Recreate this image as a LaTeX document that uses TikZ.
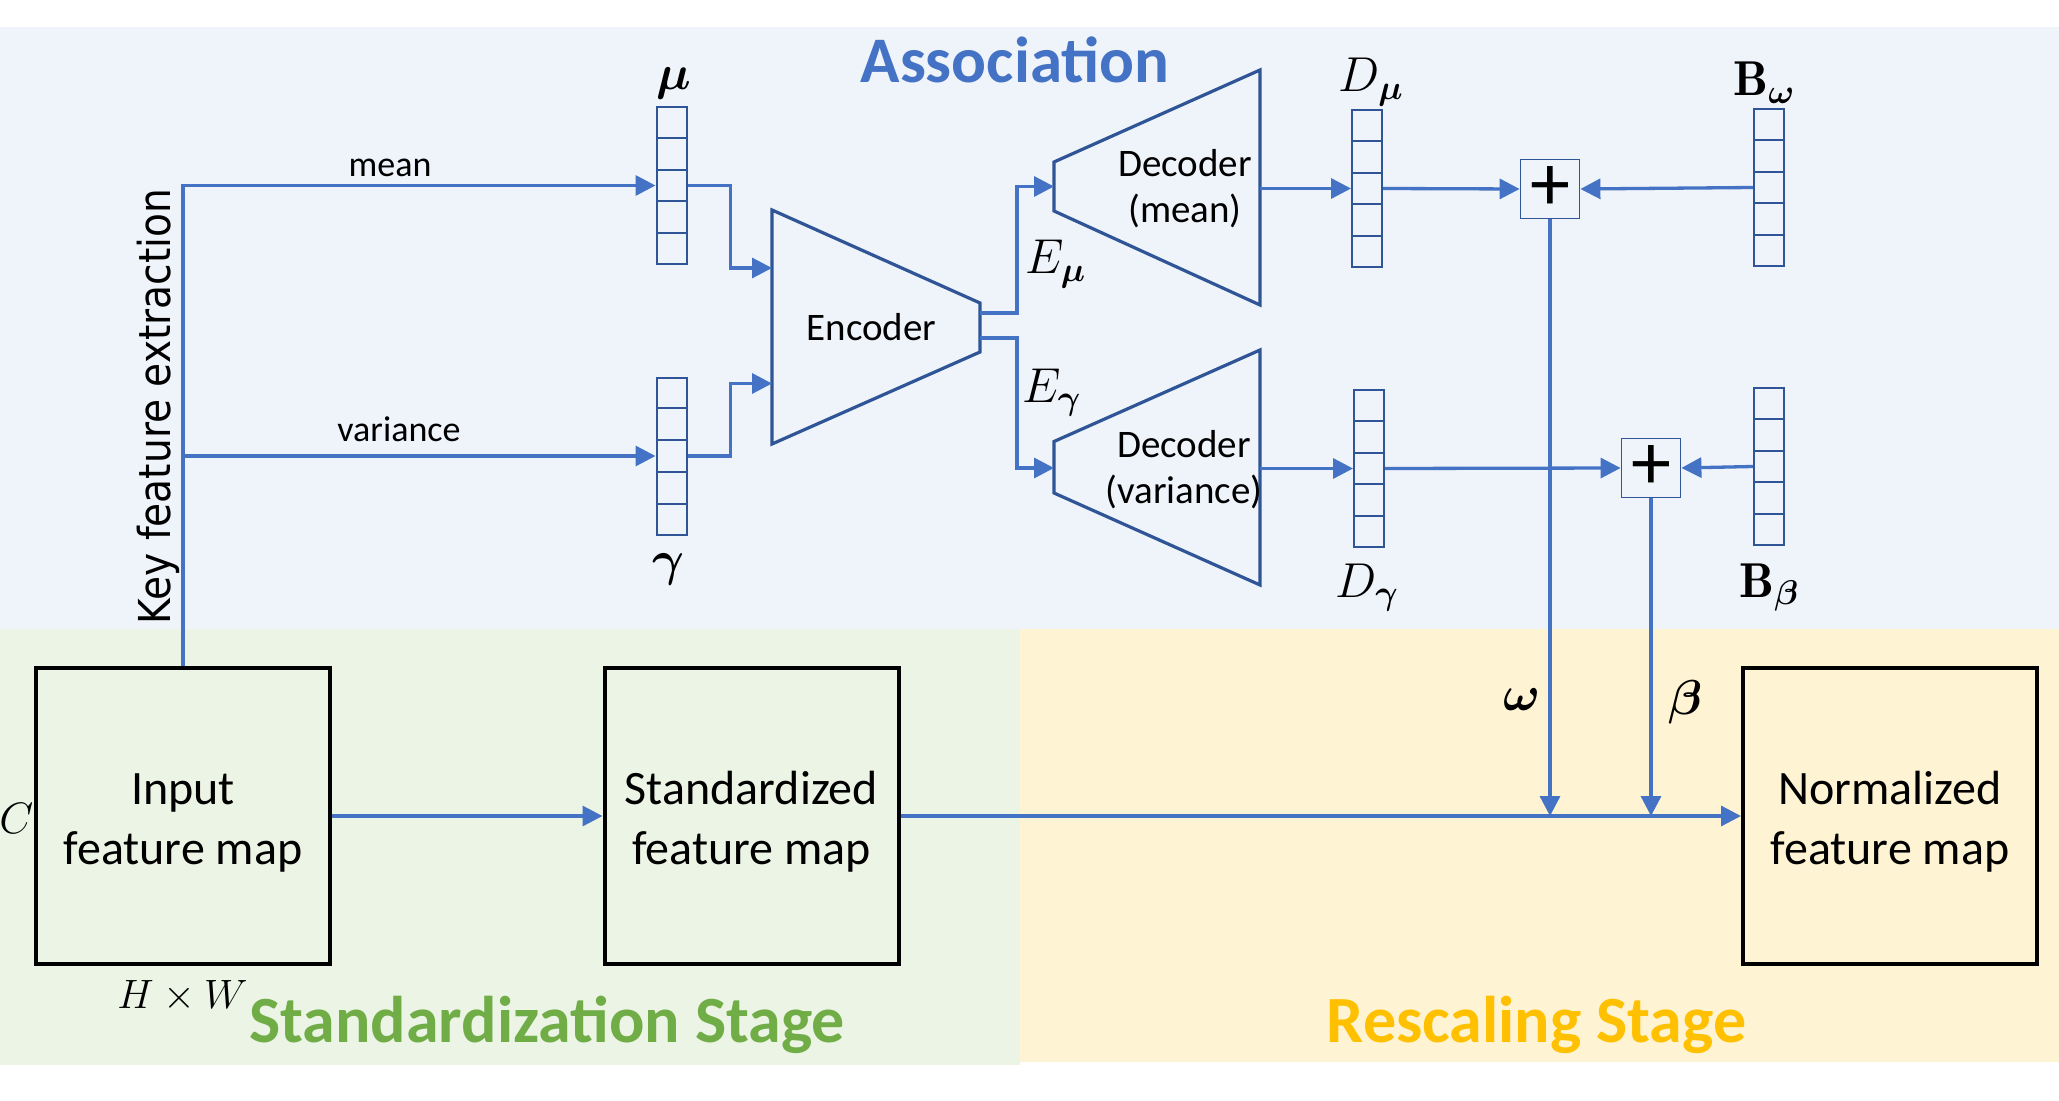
\RequirePackage{fix-cm}
\documentclass[tikz,border=0pt]{standalone}
\usepackage{amsmath}
\usepackage{fontspec}
\newfontfamily\carlito{Carlito}
\newfontfamily\dejavu{DejaVu Sans}
\usetikzlibrary{arrows.meta,calc}

\definecolor{cblue}{RGB}{68,114,196}
\definecolor{dblue}{RGB}{47,85,151}
\definecolor{assocbg}{RGB}{239,243,250}
\definecolor{stdbg}{RGB}{236,244,229}
\definecolor{resbg}{RGB}{254,243,211}
\definecolor{stdgreen}{RGB}{112,173,71}
\definecolor{resgold}{RGB}{255,192,0}

\begin{document}
\begin{tikzpicture}[x=0.5pt,y=-0.5pt,
  conn/.style={draw=cblue,line width=1.65pt},
  arr/.style={conn,-{Triangle[length=10pt,width=10pt]}},
  trap/.style={draw=dblue,line width=1.6pt,line join=miter},
  vec/.style={draw=dblue,line width=1pt,minimum width=15pt,minimum height=78.5pt,inner sep=0pt},
  cell/.style={draw=dblue,line width=1pt},
  fmap/.style={draw=black,line width=2pt,minimum width=147pt,minimum height=148pt,inner sep=0pt},
  boxtxt/.style={align=center,font=\carlito\fontsize{24pt}{30pt}\selectfont,inner sep=0pt},
  coder/.style={align=center,font=\carlito\fontsize{19.5pt}{23pt}\selectfont,inner sep=0pt},
  small/.style={font=\carlito\fontsize{18pt}{21pt}\selectfont,inner sep=0pt,anchor=base},
  stage/.style={font=\carlito\bfseries\fontsize{33pt}{38pt}\selectfont,inner sep=0pt,anchor=base},
  mlbl/.style={font=\fontsize{24.5pt}{28pt}\selectfont,inner sep=0pt,anchor=base west},
  sym/.style={font=\fontsize{24.5pt}{28pt}\selectfont,inner sep=0pt,anchor=base},
  plusbox/.style={draw=dblue,line width=0.9pt,minimum size=29.5pt,inner sep=0pt,fill=assocbg,
                  font=\carlito\fontsize{40pt}{40pt}\selectfont},
]

% canvas and the three stage panels
\fill[white] (0,0) rectangle (2059,1101);
\useasboundingbox (0,0) rectangle (2059,1101);
\fill[assocbg] (0,27) rectangle (2059,629);
\fill[stdbg] (0,629) rectangle (1019.5,1065);
\fill[resbg] (1019.5,629) rectangle (2059,1062);

% panel titles
\node[stage,text=cblue,font=\carlito\bfseries\fontsize{32.5pt}{38pt}\selectfont] (assoc) at (1015,83) {Association};
\node[stage,text=stdgreen] (stdstage) at (547,1042) {Standardization Stage};
\node[stage,text=resgold] (resstage) at (1536.5,1042) {Rescaling Stage};

% feature maps
\node[sym,anchor=base west,font=\fontsize{22pt}{26pt}\selectfont] (clbl) at (-1,833) {$C$};
\node[fmap,fill=stdbg] (input) at (183,816) {};
\node[boxtxt] (inputtxt) at (183,823) {Input\\feature map};
\node[fmap,fill=stdbg] (std) at (751.5,816) {};
\node[boxtxt] (stdtxt) at (751.5,822) {Standardized\\feature map};
\node[fmap,fill=resbg] (norm) at (1890,816) {};
\node[boxtxt] (normtxt) at (1890,822) {Normalized\\feature map};
\node[sym,font=\fontsize{20.5pt}{24pt}\selectfont] (hwlbl) at (182.5,1008) {$H\times W$};

% statistic vectors
\node[vec] (mu) at (671.5,185.5) {};
\node[vec] (gam) at (671.5,456) {};
\node[vec] (dmu) at (1367,188.5) {};
\node[vec] (dgam) at (1369,468.5) {};
\node[vec] (bw) at (1769,187.5) {};
\node[vec] (bb) at (1769,466.5) {};
\foreach \v in {mu,gam,dmu,dgam,bw,bb}
  \foreach \i in {1,...,4}
    \draw[cell] ($(\v.north west)!\i/5!(\v.south west)$) -- ($(\v.north east)!\i/5!(\v.south east)$);

\node[sym] (mulbl) at (674,90) {$\boldsymbol{\mu}$};
\node[sym] (gamlbl) at (669,575) {$\boldsymbol{\gamma}$};
\node[mlbl] (dmulbl) at (1338,92) {$D_{\boldsymbol{\mu}}$};
\node[mlbl] (dgamlbl) at (1335,597) {$D_{\boldsymbol{\gamma}}$};
\node[mlbl] (bwlbl) at (1733,96) {$\mathbf{B}_{\boldsymbol{\omega}}$};
\node[mlbl] (bblbl) at (1739,597) {$\mathbf{B}_{\boldsymbol{\beta}}$};

% encoder and decoders
\draw[trap] (772,210) -- (980,303) -- (980,352) -- (772,444) -- cycle;
\draw[trap] (1054,162) -- (1260,70) -- (1260,305) -- (1054,211) -- cycle;
\draw[trap] (1054,441.5) -- (1260,350) -- (1260,585) -- (1054,493) -- cycle;
\coordinate (encin1) at (772,268);
\coordinate (encin2) at (772,383.5);
\coordinate (encout1) at (980,313);
\coordinate (encout2) at (980,338);
\coordinate (decmin) at (1054,186.5);
\coordinate (decvin) at (1054,468);
\coordinate (decmout) at (1260,188.5);
\coordinate (decvout) at (1260,468.5);
\node[coder,anchor=base] (enctxt) at (871.5,341) {Encoder};
\node[coder] (decmtxt) at (1185,188.5) {Decoder\\(mean)};
\node[coder] (decvtxt) at (1184,470) {Decoder\\(variance)};
\node[mlbl] (emulbl) at (1025,274) {$E_{\boldsymbol{\mu}}$};
\node[mlbl] (egamlbl) at (1022,402) {$E_{\boldsymbol{\gamma}}$};

% adders
\node[plusbox] (plus1) at (1550,189) {+};
\node[plusbox] (plus2) at (1651,468) {+};

% key feature extraction
\node[rotate=90,anchor=base,inner sep=0pt,font=\dejavu\fontsize{22pt}{26pt}\selectfont] (keytxt) at (170,406.5)
  {\scalebox{0.889}[1]{Key feature extraction}};
\draw[arr] (input.north) |- (mu.west);
\draw[arr] (input.north |- gam.west) -- (gam.west);
\node[small] (meanlbl) at (390,177) {mean};
\node[small] (varlbl) at (399,441) {variance};

% association network connectors
\draw[arr] (mu.east) -- ++(43,0) |- (encin1);
\draw[arr] (gam.east) -- ++(43,0) |- (encin2);
\draw[arr] (encout1) -- ++(37,0) |- (decmin);
\draw[arr] (encout2) -- ++(37,0) |- (decvin);
\draw[arr] (decmout) -- (dmu.west);
\draw[arr] (decvout) -- (dgam.west);
\draw[arr] (dmu.east) -- (plus1.west);
\draw[arr] (bw.west) -- (plus1.east);
\draw[arr] (dgam.east) -- (plus2.west);
\draw[arr] (bb.west) -- (plus2.east);

% main feature path and rescaling inputs
\draw[arr] (input.east) -- (std.west);
\draw[arr] (std.east) -- (norm.west);
\coordinate (wjoin) at (plus1.south |- norm.west);
\coordinate (bjoin) at (plus2.south |- norm.west);
\draw[arr] (plus1.south) -- (wjoin);
\draw[arr] (plus2.south) -- (bjoin);
\node[sym] (wlbl) at (1522,710) {$\boldsymbol{\omega}$};
\node[sym] (blbl) at (1685,714) {$\boldsymbol{\beta}$};

\end{tikzpicture}
\end{document}
